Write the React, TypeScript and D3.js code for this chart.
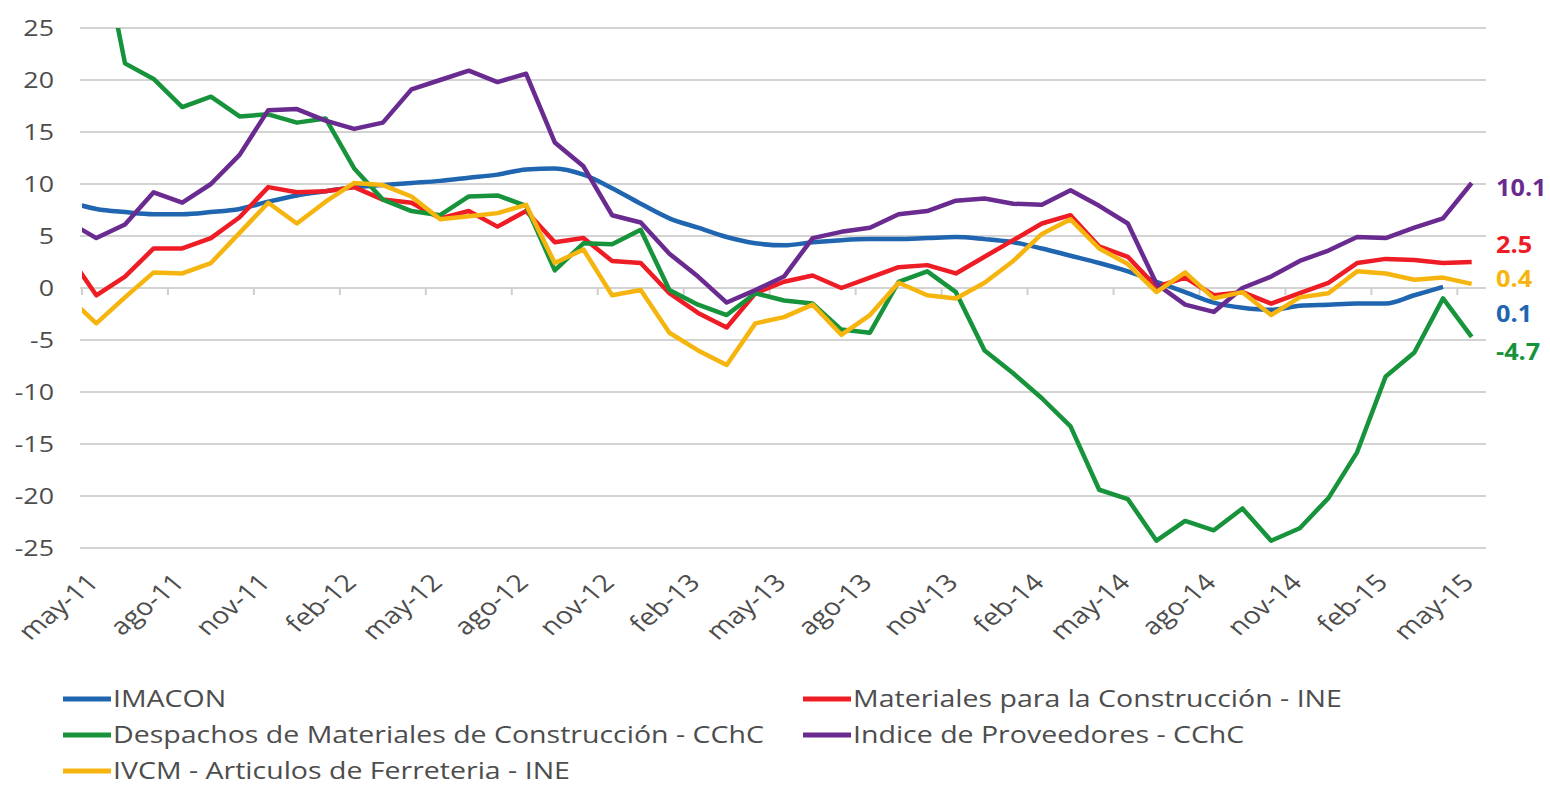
import { useMemo } from "react";
import * as d3 from "d3";

// month labels, first entry is abr-11 (only its segment toward may-11 is visible, clipped at the left edge)
const months = [
  "abr-11",
  "may-11", "jun-11", "jul-11", "ago-11", "sep-11", "oct-11", "nov-11", "dic-11", "ene-12", "feb-12",
  "mar-12", "abr-12", "may-12", "jun-12", "jul-12", "ago-12", "sep-12", "oct-12", "nov-12", "dic-12",
  "ene-13", "feb-13", "mar-13", "abr-13", "may-13", "jun-13", "jul-13", "ago-13", "sep-13", "oct-13",
  "nov-13", "dic-13", "ene-14", "feb-14", "mar-14", "abr-14", "may-14", "jun-14", "jul-14", "ago-14",
  "sep-14", "oct-14", "nov-14", "dic-14", "ene-15", "feb-15", "mar-15", "abr-15", "may-15",
];

const tickLabels = [
  "may-11", "ago-11", "nov-11", "feb-12", "may-12", "ago-12", "nov-12", "feb-13", "may-13",
  "ago-13", "nov-13", "feb-14", "may-14", "ago-14", "nov-14", "feb-15", "may-15",
];

const yTicks = [25, 20, 15, 10, 5, 0, -5, -10, -15, -20, -25];

const imacon = [
  8.3,
  7.6, 7.3, 7.1, 7.1, 7.3, 7.6, 8.3, 8.9, 9.3, 9.7,
  9.9, 10.1, 10.3, 10.6, 10.9, 11.4, 11.5, 10.9, 9.6, 8.1,
  6.7, 5.8, 4.9, 4.3, 4.1, 4.4, 4.6, 4.7, 4.7, 4.8,
  4.9, 4.7, 4.4, 3.8, 3.1, 2.4, 1.6, 0.6, -0.4, -1.4,
  -1.9, -2.1, -1.7, -1.6, -1.5, -1.5, -0.7, 0.1, null,
];

const materiales = [
  3.3,
  -0.7, 1.1, 3.8, 3.8, 4.8, 6.8, 9.7, 9.2, 9.3, 9.7,
  8.5, 8.2, 6.7, 7.4, 5.9, 7.4, 4.4, 4.8, 2.6, 2.4,
  -0.5, -2.4, -3.8, -0.5, 0.6, 1.2, 0.0, 1.0, 2.0, 2.2,
  1.4, 3.0, 4.6, 6.2, 7.0, 4.0, 3.0, 0.1, 1.0, -0.7,
  -0.4, -1.5, -0.5, 0.5, 2.4, 2.8, 2.7, 2.4, 2.5,
];

const despachos = [
  null,
  35.5, 21.6, 20.1, 17.4, 18.4, 16.5, 16.7, 15.9, 16.3, 11.5,
  8.5, 7.4, 7.0, 8.8, 8.9, 7.9, 1.7, 4.3, 4.2, 5.6,
  -0.2, -1.6, -2.6, -0.5, -1.2, -1.5, -4.0, -4.3, 0.6, 1.6,
  -0.4, -6.0, -8.2, -10.6, -13.3, -19.4, -20.3, -24.3, -22.4, -23.3,
  -21.2, -24.3, -23.1, -20.2, -15.8, -8.5, -6.2, -1.0, -4.7,
];

const proveedores = [
  6.4,
  4.8, 6.1, 9.2, 8.2, 10.0, 12.8, 17.1, 17.2, 16.1, 15.3,
  15.9, 19.1, 20.0, 20.9, 19.8, 20.6, 14.0, 11.7, 7.0, 6.3,
  3.3, 1.1, -1.4, -0.2, 1.1, 4.8, 5.4, 5.8, 7.1, 7.4,
  8.4, 8.6, 8.1, 8.0, 9.4, 7.9, 6.2, 0.4, -1.6, -2.3,
  0.0, 1.1, 2.6, 3.6, 4.9, 4.8, 5.8, 6.7, 10.1,
];

const ferreteria = [
  -0.8,
  -3.4, -0.9, 1.5, 1.4, 2.4, 5.3, 8.2, 6.2, 8.3, 10.1,
  9.9, 8.8, 6.6, 6.9, 7.2, 8.0, 2.4, 3.7, -0.7, -0.2,
  -4.3, -6.0, -7.4, -3.4, -2.8, -1.6, -4.5, -2.6, 0.5, -0.7,
  -1.0, 0.5, 2.6, 5.2, 6.6, 3.8, 2.3, -0.4, 1.5, -1.0,
  -0.4, -2.6, -0.9, -0.5, 1.6, 1.4, 0.8, 1.0, 0.4,
];

const series = [
  { name: "IMACON", values: imacon, color: "#1f65b0", smooth: true, endLabel: "0.1", labelDy: 27 },
  { name: "Materiales para la Construcción - INE", values: materiales, color: "#ee1c25", smooth: false, endLabel: "2.5", labelDy: -17 },
  { name: "Despachos de Materiales de Construcción - CChC", values: despachos, color: "#17943b", smooth: false, endLabel: "-4.7", labelDy: 15 },
  { name: "Indice de Proveedores - CChC", values: proveedores, color: "#6a2b90", smooth: false, endLabel: "10.1", labelDy: 5 },
  { name: "IVCM - Articulos de Ferreteria - INE", values: ferreteria, color: "#f6b50e", smooth: false, endLabel: "0.4", labelDy: -5 },
];

// legend order: two columns
const legendOrder = [
  { idx: 0, col: 0, row: 0 },
  { idx: 1, col: 1, row: 0 },
  { idx: 2, col: 0, row: 1 },
  { idx: 3, col: 1, row: 1 },
  { idx: 4, col: 0, row: 2 },
];

const width = 1550;
const height = 785;
const margin = { left: 82, right: 64, top: 28, bottom: 237 };
const font = "'Open Sans', 'DejaVu Sans', sans-serif";
const textColor = "#4d4d4d";
const stretch = 1.22; // the source picture is widened, so text is too

export default function App() {
  const plotRight = width - margin.right;
  const plotBottom = height - margin.bottom;

  // month index scale: 0 = start of may-11, 49 = start of jun-15; points sit mid-month
  const x = useMemo(
    () => d3.scaleLinear().domain([0, 49]).range([margin.left, plotRight]),
    [plotRight]
  );
  const y = useMemo(
    () => d3.scaleLinear().domain([-25, 25]).range([plotBottom, margin.top]),
    [plotBottom]
  );

  const posX = (i: number) => x(i - 1 + 0.5); // i indexes months[] (0 = abr-11)

  const paths = series.map((s) => {
    const line = d3
      .line<number | null>()
      .defined((d) => d !== null)
      .x((_, i) => posX(i))
      .y((d) => y(d as number))
      .curve(s.smooth ? d3.curveMonotoneX : d3.curveLinear);
    return line(s.values) ?? "";
  });

  const lastPoint = (vals: (number | null)[]) => {
    for (let i = vals.length - 1; i >= 0; i--) if (vals[i] !== null) return vals[i] as number;
    return 0;
  };

  return (
    <div style={{ position: "absolute", left: 0, top: 0 }}>
      <svg width={width} height={height} style={{ display: "block", background: "#fff" }}>
        <defs>
          <clipPath id="plot-clip">
            <rect x={margin.left} y={margin.top} width={plotRight - margin.left} height={plotBottom - margin.top + 4} />
          </clipPath>
        </defs>

        {/* grid */}
        {yTicks.map((t) => (
          <line
            key={t}
            x1={margin.left - 2}
            x2={plotRight}
            y1={y(t)}
            y2={y(t)}
            stroke="#d3d3d3"
            strokeWidth={2}
          />
        ))}

        {/* y labels */}
        {yTicks.map((t) => (
          <text
            key={t}
            transform={`translate(54,${y(t)}) scale(${stretch},1)`}
            dy="0.35em"
            textAnchor="end"
            fontFamily={font}
            fontSize={22}
            fill={textColor}
          >
            {t}
          </text>
        ))}

        {/* x ticks on the zero line */}
        {tickLabels.map((lab, k) => (
          <line
            key={lab}
            x1={x(k * 3)}
            x2={x(k * 3)}
            y1={y(0)}
            y2={y(0) + 7}
            stroke="#cfcfcf"
            strokeWidth={2}
          />
        ))}

        {/* x labels */}
        {tickLabels.map((lab, k) => {
          const tx = x(k * 3) + 18;
          const ty = 584;
          return (
            <text
              key={lab}
              transform={`translate(${tx},${ty}) scale(${stretch},1) rotate(-45)`}
              textAnchor="end"
              fontFamily={font}
              fontSize={23.5}
              fill={textColor}
            >
              {lab}
            </text>
          );
        })}

        {/* series */}
        <g clipPath="url(#plot-clip)">
          {series.map((s, i) => (
            <path
              key={s.name}
              d={paths[i]}
              fill="none"
              stroke={s.color}
              strokeWidth={4.5}
              strokeLinejoin="round"
            />
          ))}
        </g>

        {/* end labels */}
        {series.map((s) => (
          <text
            key={s.name}
            transform={`translate(1496,${y(lastPoint(s.values)) + s.labelDy}) scale(1.1,1)`}
            dy="0.35em"
            fontFamily={font}
            fontSize={23}
            fontWeight="bold"
            fill={s.color}
          >
            {s.endLabel}
          </text>
        ))}

        {/* legend */}
        {legendOrder.map(({ idx, col, row }) => {
          const s = series[idx];
          const lx = col === 0 ? 63 : 803;
          const ly = 699 + row * 36;
          return (
            <g key={s.name}>
              <line x1={lx} x2={lx + 48} y1={ly} y2={ly} stroke={s.color} strokeWidth={5} />
              <text
                transform={`translate(${lx + 50},${ly}) scale(1.24,1)`}
                dy="0.35em"
                fontFamily={font}
                fontSize={23}
                fill={textColor}
              >
                {s.name}
              </text>
            </g>
          );
        })}
      </svg>
    </div>
  );
}
